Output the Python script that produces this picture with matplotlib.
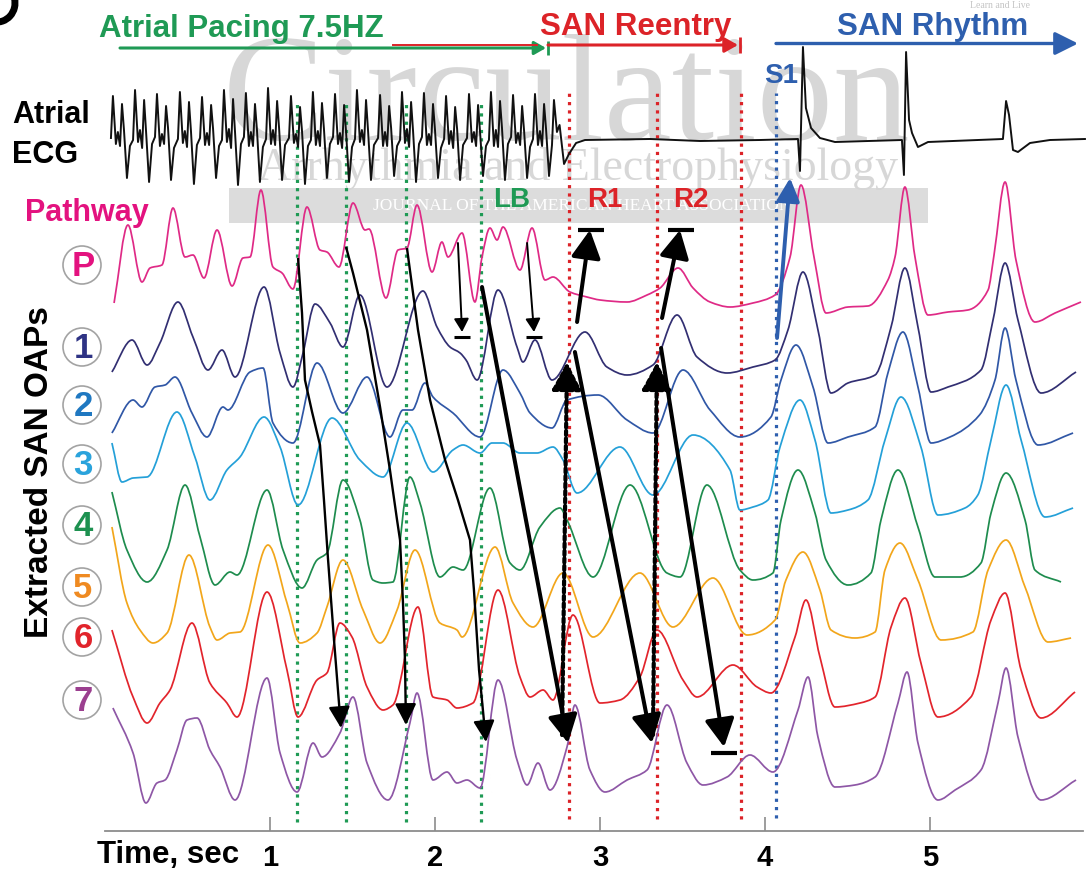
import matplotlib
matplotlib.use("Agg")
import matplotlib.pyplot as plt
from matplotlib.patches import Circle, Rectangle, Arc, PathPatch
from matplotlib.path import Path

plt.rcParams['font.family'] = ['Liberation Sans', 'DejaVu Sans']
plt.rcParams['font.weight'] = 'bold'

# ---------------- optical action potential traces (time s, amplitude a.u.) -------------
pathway_t = [0.055,0.139,0.224,0.273,0.345,0.412,0.485,0.533,0.600,0.679,0.770,0.836,0.879,0.945,1.018,1.073,1.139,1.224,1.303,1.345,1.418,1.503,1.576,1.600,1.703,1.776,1.830,1.891,1.982,2.042,2.079,2.164,2.242,2.285,2.333,2.376,2.412,2.515,2.588,2.667,2.715,2.818,2.921,3.000,3.164,3.285,3.364,3.473,3.564,3.667,3.788,3.927,4.061,4.152,4.218,4.297,4.370,4.503,4.624,4.745,4.788,4.848,4.909,4.988,5.109,5.230,5.352,5.388,5.455,5.521,5.636,5.758,5.915]
pathway_v = [-3,75,18,32,35,92,43,45,22,70,14,42,43,110,33,27,11,93,50,48,33,97,70,71,2,50,52,95,28,58,43,67,-2,43,72,60,73,30,72,20,23,8,3,0,-2,5,12,32,12,-2,-7,-3,5,43,115,43,-13,-7,-6,20,43,113,43,-15,-12,-10,10,45,118,40,-22,-13,-2]

oap1_t = [0.042,0.164,0.255,0.333,0.442,0.533,0.624,0.709,0.788,0.964,1.061,1.139,1.200,1.273,1.364,1.442,1.545,1.709,1.927,2.012,2.091,2.152,2.188,2.255,2.382,2.497,2.533,2.606,2.709,2.909,3.042,3.164,3.321,3.467,3.588,3.770,3.927,4.061,4.139,4.230,4.321,4.400,4.503,4.667,4.764,4.848,4.927,5.006,5.109,5.309,5.382,5.455,5.533,5.673,5.885]
oap1_v = [18,50,25,47,88,53,20,40,13,103,37,3,37,86,67,43,95,3,99,63,43,37,30,10,100,43,28,50,10,58,23,15,25,75,33,17,23,30,60,118,60,-3,7,15,63,122,63,-2,3,20,70,127,70,-3,18]

oap2_t = [0.042,0.170,0.224,0.303,0.364,0.424,0.527,0.618,0.715,0.745,0.879,0.958,1.018,1.139,1.285,1.442,1.588,1.727,1.806,1.861,1.939,1.988,2.109,2.273,2.412,2.515,2.576,2.709,2.800,2.988,3.164,3.321,3.503,3.667,3.848,4.036,4.097,4.188,4.291,4.382,4.503,4.667,4.745,4.836,4.927,5.006,5.121,5.300,5.394,5.455,5.521,5.655,5.867]
oap2_v = [7,40,33,53,55,63,27,3,33,30,68,72,17,-3,77,27,63,3,30,30,57,43,27,3,70,47,27,12,40,45,20,7,70,30,3,23,60,95,53,-3,3,13,67,108,53,-3,3,25,60,112,60,-5,7]

oap3_t = [0.042,0.103,0.170,0.255,0.436,0.545,0.636,0.739,0.818,0.964,1.061,1.170,1.376,1.545,1.685,1.830,1.988,2.109,2.170,2.273,2.345,2.412,2.515,2.618,2.715,2.776,2.861,3.121,3.321,3.564,3.788,3.848,3.927,4.018,4.091,4.212,4.303,4.400,4.503,4.624,4.727,4.824,4.945,5.048,5.212,5.290,5.370,5.461,5.552,5.697,5.867]
oap3_v = [57,18,22,23,88,43,0,30,43,83,53,-5,82,40,23,77,28,50,55,47,57,57,47,47,53,40,7,53,5,65,30,-10,-7,0,53,100,60,-13,-10,0,60,103,53,-15,-8,5,60,115,60,-17,-8]

oap4_t = [0.042,0.133,0.255,0.376,0.485,0.576,0.667,0.758,0.800,0.982,1.079,1.194,1.285,1.345,1.442,1.545,1.624,1.685,1.745,1.848,1.909,2.030,2.109,2.170,2.333,2.455,2.515,2.636,2.758,2.800,2.958,3.182,3.406,3.485,3.648,3.848,3.927,4.048,4.097,4.200,4.303,4.370,4.503,4.642,4.703,4.806,4.927,5.030,5.182,5.309,5.370,5.461,5.576,5.636,5.794]
oap4_v = [93,35,3,35,100,48,0,13,10,95,35,-3,25,32,105,65,5,2,3,108,82,8,18,15,97,22,15,58,77,65,8,100,12,8,100,15,5,12,65,115,72,25,0,12,65,115,58,8,8,22,72,112,65,15,3]

oap5_t = [0.042,0.133,0.212,0.291,0.376,0.509,0.636,0.679,0.758,0.818,0.988,1.103,1.182,1.285,1.345,1.442,1.564,1.667,1.770,1.879,2.030,2.133,2.164,2.364,2.473,2.594,2.776,2.958,3.242,3.442,3.685,3.891,4.061,4.127,4.230,4.333,4.400,4.545,4.667,4.727,4.818,4.927,5.067,5.260,5.352,5.461,5.576,5.715,5.855]
oap5_v = [113,37,10,-3,7,85,13,0,7,8,95,37,-3,7,33,80,30,-3,30,90,17,10,3,93,37,13,67,3,67,13,62,5,20,60,88,50,10,2,8,70,97,60,0,8,70,100,53,-2,2]

oap6_t = [0.042,0.170,0.255,0.333,0.394,0.527,0.636,0.739,0.800,0.982,1.103,1.170,1.285,1.345,1.424,1.497,1.588,1.685,1.745,1.897,1.988,2.073,2.133,2.230,2.382,2.515,2.576,2.655,2.715,2.836,3.000,3.121,3.242,3.345,3.503,3.588,3.806,3.952,4.036,4.182,4.248,4.333,4.424,4.576,4.667,4.764,4.848,4.945,5.048,5.248,5.370,5.455,5.552,5.673,5.879]
oap6_v = [85,18,-8,12,25,92,32,12,-2,123,45,-2,35,42,92,78,28,5,10,108,18,15,7,12,125,38,18,25,15,100,12,15,38,85,35,18,50,28,22,78,115,58,8,12,18,88,117,52,-2,18,95,122,45,-3,23]

oap7_t = [0.048,0.170,0.248,0.315,0.364,0.436,0.497,0.558,0.636,0.697,0.788,0.982,1.061,1.164,1.261,1.315,1.424,1.503,1.588,1.715,1.848,1.891,1.988,2.073,2.133,2.194,2.273,2.382,2.497,2.558,2.624,2.697,2.800,2.848,2.939,3.030,3.164,3.285,3.406,3.527,3.624,3.770,3.909,4.048,4.200,4.261,4.321,4.424,4.545,4.667,4.806,4.861,4.927,5.048,5.152,5.309,5.412,5.461,5.533,5.673,5.885]
oap7_v = [92,47,-3,17,20,50,80,82,50,33,0,122,47,8,57,43,67,103,37,0,77,107,20,28,17,20,12,120,40,15,37,10,53,95,30,8,20,30,95,37,15,23,45,28,90,123,63,13,15,23,97,128,57,0,10,30,97,132,63,0,20]

# ---------------- atrial electrogram (time s, amplitude a.u.) ----------------
ecg_t = [
    0.036,0.048,0.066,0.078,0.091,0.103,0.115,0.133,0.151,
    0.170,0.182,0.200,0.212,0.225,0.237,0.249,0.267,0.285,
    0.303,0.315,0.333,0.345,0.358,0.370,0.382,0.400,0.418,
    0.442,0.454,0.472,0.484,0.497,0.509,0.521,0.539,0.557,
    0.576,0.588,0.606,0.618,0.631,0.643,0.655,0.673,0.691,
    0.709,0.721,0.739,0.751,0.764,0.776,0.788,0.806,0.824,
    0.842,0.854,0.872,0.884,0.897,0.909,0.921,0.939,0.957,
    0.976,0.988,1.006,1.018,1.031,1.043,1.055,1.073,1.091,
    1.115,1.127,1.145,1.157,1.170,1.182,1.194,1.212,1.230,
    1.248,1.260,1.278,1.290,1.303,1.315,1.327,1.345,1.363,
    1.382,1.394,1.412,1.424,1.437,1.449,1.461,1.479,1.497,
    1.515,1.527,1.545,1.557,1.570,1.582,1.594,1.612,1.630,
    1.655,1.667,1.685,1.697,1.710,1.722,1.734,1.752,1.770,
    1.788,1.800,1.818,1.830,1.843,1.855,1.867,1.885,1.903,
    1.921,1.933,1.951,1.963,1.976,1.988,2.000,2.018,2.036,
    2.055,2.067,2.085,2.097,2.110,2.122,2.134,2.152,2.170,
    2.194,2.206,2.224,2.236,2.249,2.261,2.273,2.291,2.309,
    2.327,2.339,2.357,2.369,2.382,2.394,2.406,2.424,2.442,
    2.461,2.473,2.491,2.503,2.516,2.528,2.540,2.558,2.576,
    2.594,2.606,2.624,2.636,2.649,2.661,2.673,2.691,2.709,
    2.721,2.739,2.755,2.782,2.812,2.855,2.909,3.303,3.606,3.970,
    4.200,4.212,4.230,4.248,4.279,4.333,4.424,
    4.830,4.842,4.855,4.873,4.891,4.927,4.988,
    5.442,5.461,5.479,5.503,5.533,5.606,5.727,5.939]
ecg_v = [
    2,44,-4,8,-6,36,10,-38,-6,
    0,50,-2,10,-8,40,8,-42,-4,
    3,46,-6,6,-4,34,12,-40,-8,
    1,48,-3,9,-7,38,9,-44,-5,
    2,43,-5,7,-5,35,11,-38,-6,
    0,50,-2,11,-8,41,8,-45,-4,
    3,47,-6,8,-6,36,10,-42,-7,
    1,52,-4,10,-5,39,12,-40,-5,
    2,44,-3,6,-7,33,9,-44,-6,
    0,48,-5,9,-6,37,11,-38,-4,
    3,46,-4,7,-8,35,8,-42,-7,
    1,50,-2,10,-5,40,10,-40,-5,
    2,45,-6,8,-6,34,12,-36,-6,
    0,48,-3,11,-7,38,9,-42,-4,
    3,47,-5,6,-5,36,10,-38,-8,
    1,44,-4,9,-8,33,11,-40,-5,
    2,46,-2,8,-6,35,8,-36,-6,
    0,48,-6,10,-7,39,12,-40,-4,
    3,45,-3,7,-5,34,9,-38,-7,
    1,46,-5,9,-6,36,11,-36,-5,
    40,8,15,-24,-14,-3,0,1,-1,0,
    1,-31,93,32,12,2,-2,
    0,-35,88,20,7,-7,-2,
    1,39,25,-10,-12,-3,0,1]

# time markers (s)
pacing_marks = [1.162, 1.461, 1.824, 2.279]
reentry_marks = [2.812, 3.345, 3.855]
s1_mark = 4.067

# ---------------- styles ----------------
W, H = 1088, 872
AX_Y0 = 831                       # pixel row of the time axis
trace_names = ['P', '1', '2', '3', '4', '5', '6', '7']
trace_colors = ['#df2a86', '#322f72', '#3057a6', '#24a0d8', '#1e8c4e', '#f2a61b', '#e2242c', '#8e57a6']
label_colors = ['#e3127f', '#2e3384', '#1f78c1', '#2aa3dc', '#1d9150', '#ef8a21', '#e1242b', '#9b3f8f']
trace_offsets = [531, 441, 391, 331, 246, 191, 116, 31]
label_rows = [265, 347, 405, 464, 525, 587, 637, 700]
ecg_offset = 691
GREEN, RED, BLUE = '#1f9a55', '#dc2328', '#2e5fae'


def smooth_curve(x, y):
    """Monotone cubic Bezier path through the samples (no overshoot at extrema)."""
    if len(x) != len(y):
        raise ValueError('length mismatch')
    n = len(x)
    h = [x[i + 1] - x[i] for i in range(n - 1)]
    d = [(y[i + 1] - y[i]) / h[i] for i in range(n - 1)]
    m = [0.0] * n
    m[0], m[-1] = d[0], d[-1]
    for i in range(1, n - 1):
        if d[i - 1] * d[i] <= 0:
            m[i] = 0.0
        else:
            w1 = 2 * h[i] + h[i - 1]
            w2 = h[i] + 2 * h[i - 1]
            m[i] = (w1 + w2) / (w1 / d[i - 1] + w2 / d[i])
    verts = [(x[0], y[0])]
    codes = [Path.MOVETO]
    for i in range(n - 1):
        verts += [(x[i] + h[i] / 3, y[i] + m[i] * h[i] / 3),
                  (x[i + 1] - h[i] / 3, y[i + 1] - m[i + 1] * h[i] / 3),
                  (x[i + 1], y[i + 1])]
        codes += [Path.CURVE4] * 3
    return Path(verts, codes)


fig = plt.figure(figsize=(W / 100, H / 100), dpi=100)

# background layer in pixel coordinates: journal watermark, circled labels, texts
bg = fig.add_axes([0, 0, 1, 1])
bg.set_xlim(0, W)
bg.set_ylim(H, 0)
bg.axis('off')

bg.text(567, 140, 'Circulation', family='Liberation Serif', fontweight='normal', fontsize=110,
        color='#bdbdbd', alpha=0.6, ha='center', va='baseline', zorder=1)
bg.text(578, 180, 'Arrhythmia and Electrophysiology', family='Liberation Serif', fontweight='normal',
        fontsize=33, color='#bdbdbd', alpha=0.6, ha='center', va='baseline', zorder=1)
bg.add_patch(Rectangle((229, 188), 699, 35, facecolor='#d6d6d6', edgecolor='none', alpha=0.85, zorder=1))
bg.text(582, 206, 'JOURNAL OF THE AMERICAN HEART ASSOCIATION', family='Liberation Serif',
        fontweight='normal', fontsize=12.5, color='white', ha='center', va='center', zorder=2)
bg.text(1000, 6, 'Learn and Live', family='Liberation Serif', fontweight='normal', fontsize=7,
        color='#c4c4c4', ha='center', va='center', zorder=1)
bg.add_patch(Arc((-3, 3), 36, 38, theta1=-15, theta2=100, lw=5, color='black'))

for name, row, col in zip(trace_names, label_rows, label_colors):
    bg.add_patch(Circle((82, row), 19, facecolor='white', edgecolor='#a3a3a3', lw=1.2, zorder=3))
    bg.text(83, row + 1, name, color=col, fontsize=25, ha='center', va='center', zorder=4)

bg.text(12, 123, 'Atrial', fontsize=22, ha='left', va='baseline')
bg.text(12, 163, 'ECG', fontsize=22, ha='left', va='baseline')
bg.text(25, 221, 'Pathway', fontsize=22, color='#e3127f', ha='left', va='baseline')
bg.text(40, 472, 'Extracted SAN OAPs', fontsize=24, rotation=90, ha='center', va='center')
bg.text(99, 37, 'Atrial Pacing 7.5HZ', fontsize=22.5, color=GREEN, ha='left', va='baseline')
bg.text(540, 35, 'SAN Reentry', fontsize=22.5, color=RED, ha='left', va='baseline')
bg.text(837, 35, 'SAN Rhythm', fontsize=22.5, color=BLUE, ha='left', va='baseline')
bg.text(764, 83, 'S1', fontsize=20, color=BLUE, ha='left', va='baseline')
bg.text(493, 207, 'LB', fontsize=20, color=GREEN, ha='left', va='baseline', zorder=5)
bg.text(587, 207, 'R1', fontsize=20, color=RED, ha='left', va='baseline', zorder=5)
bg.text(673, 207, 'R2', fontsize=20, color=RED, ha='left', va='baseline', zorder=5)
bg.text(97, 863, 'Time, sec', fontsize=22.5, ha='left', va='baseline')

# main layer: time axis in seconds
ax = fig.add_axes([105 / W, (H - AX_Y0) / H, 978 / W, AX_Y0 / H])
ax.set_xlim(0, 978 / 165)
ax.set_ylim(0, AX_Y0)
ax.patch.set_alpha(0)
for s in ['left', 'right', 'top']:
    ax.spines[s].set_visible(False)
ax.spines['bottom'].set_color('#8c8c8c')
ax.spines['bottom'].set_linewidth(1.3)
ax.set_yticks([])
ax.set_xticks([1, 2, 3, 4, 5])
ax.tick_params(axis='x', direction='in', length=10, width=1.2, color='#8c8c8c', pad=9, labelsize=21)

T_PER_PX = (978 / 165) / 978

# vertical event markers
for t in pacing_marks:
    ax.plot([t, t], [9, 731], color=GREEN, lw=2.3, ls=(0, (1, 1.6)), zorder=2, clip_on=False)
for t in reentry_marks:
    ax.plot([t, t], [12, 739], color=RED, lw=2.3, ls=(0, (1, 1.6)), zorder=2, clip_on=False)
ax.plot([s1_mark, s1_mark], [13, 738], color=BLUE, lw=2.3, ls=(0, (1, 1.6)), zorder=2, clip_on=False)

# traces
series = [(pathway_t, pathway_v), (oap1_t, oap1_v), (oap2_t, oap2_v), (oap3_t, oap3_v),
          (oap4_t, oap4_v), (oap5_t, oap5_v), (oap6_t, oap6_v), (oap7_t, oap7_v)]
for (tt, vv), off, col in zip(series, trace_offsets, trace_colors):
    ax.add_patch(PathPatch(smooth_curve(tt, [off + v for v in vv]), fill=False, edgecolor=col,
                           lw=1.25, joinstyle='round', zorder=3, clip_on=False))
ax.plot(ecg_t, [ecg_offset + v for v in ecg_v], color='#111111', lw=1.4, solid_joinstyle='round',
        zorder=3, clip_on=False)


def arrow(ts, ys, lw, hl, hw, color='black', ls='-', zorder=6):
    if len(ts) > 2:
        ax.plot(ts[:-1], ys[:-1], color=color, lw=lw, ls=ls, solid_capstyle='butt', zorder=zorder, clip_on=False)
    ax.annotate('', xy=(ts[-1], ys[-1]), xytext=(ts[-2], ys[-2]), zorder=zorder,
                arrowprops=dict(arrowstyle='-|>,head_length=%g,head_width=%g' % (hl, hw),
                                lw=lw, color=color, ls=ls, shrinkA=0, shrinkB=0, mutation_scale=1),
                annotation_clip=False)


def hbar(t, y, half_px, lw, color='black'):
    ax.plot([t - half_px * T_PER_PX, t + half_px * T_PER_PX], [y, y], color=color, lw=lw,
            solid_capstyle='butt', zorder=6, clip_on=False)


def vbar(t, y, half_px, lw, color='black'):
    ax.plot([t, t], [y - half_px, y + half_px], color=color, lw=lw, solid_capstyle='butt', zorder=6, clip_on=False)


# conduction during pacing (thin curved arrows)
arrow([1.170, 1.194, 1.212, 1.255, 1.303, 1.327, 1.352, 1.388, 1.430],
      [573, 518, 451, 419, 386, 331, 271, 191, 103], 1.7, 13, 6.5)
arrow([1.461, 1.503, 1.588, 1.667, 1.727, 1.770, 1.788, 1.806, 1.818, 1.824],
      [584, 558, 501, 424, 361, 311, 291, 228, 171, 106], 1.7, 13, 6.5)
arrow([1.830, 1.897, 1.970, 2.061, 2.139, 2.212, 2.236, 2.267, 2.309],
      [583, 501, 431, 371, 331, 291, 241, 161, 89], 1.7, 13, 6.5)
# local block
arrow([2.139, 2.164], [588, 499], 1.4, 8, 4.5)
hbar(2.164, 494, 8, 2.2)
arrow([2.558, 2.600], [588, 499], 1.4, 8, 4.5)
hbar(2.600, 494, 8, 2.2)
# reentrant activation
arrow([2.285, 2.806], [544, 88], 2.9, 17, 9)
arrow([2.848, 3.315], [479, 88], 2.9, 17, 9)
arrow([3.370, 3.752], [483, 84], 2.9, 17, 9)
hbar(3.752, 78, 13, 3)
arrow([2.770, 2.800], [96, 469], 3.0, 17, 9, ls=(0, (1, 0.8)))
arrow([3.321, 3.345], [96, 469], 3.0, 17, 9, ls=(0, (1, 0.8)))
arrow([2.861, 2.939], [509, 601], 2.9, 17, 9)
hbar(2.945, 601, 13, 3)
arrow([3.376, 3.485], [513, 601], 2.9, 17, 9)
hbar(3.491, 601, 13, 3)
# S1 stimulus
arrow([4.073, 4.152], [493, 653], 2.8, 14, 7, color=BLUE)

# protocol bars on top
arrow([(120 - 105) / 165, (546 - 105) / 165], [783, 783], 2.2, 7, 4, color=GREEN)
ax.plot([(393 - 105) / 165, (537 - 105) / 165], [785.5, 785.5], color=RED, lw=1.4, zorder=7, clip_on=False)
vbar((548 - 105) / 165, 783, 7, 2, color=GREEN)
arrow([(548 - 105) / 165, (738 - 105) / 165], [786, 786], 2.2, 8, 4.5, color=RED)
vbar((740 - 105) / 165, 786, 8, 2, color=RED)
arrow([(776 - 105) / 165, (1078 - 105) / 165], [787.5, 787.5], 2.4, 14, 7, color=BLUE)

fig.savefig('out.png', dpi=100)
